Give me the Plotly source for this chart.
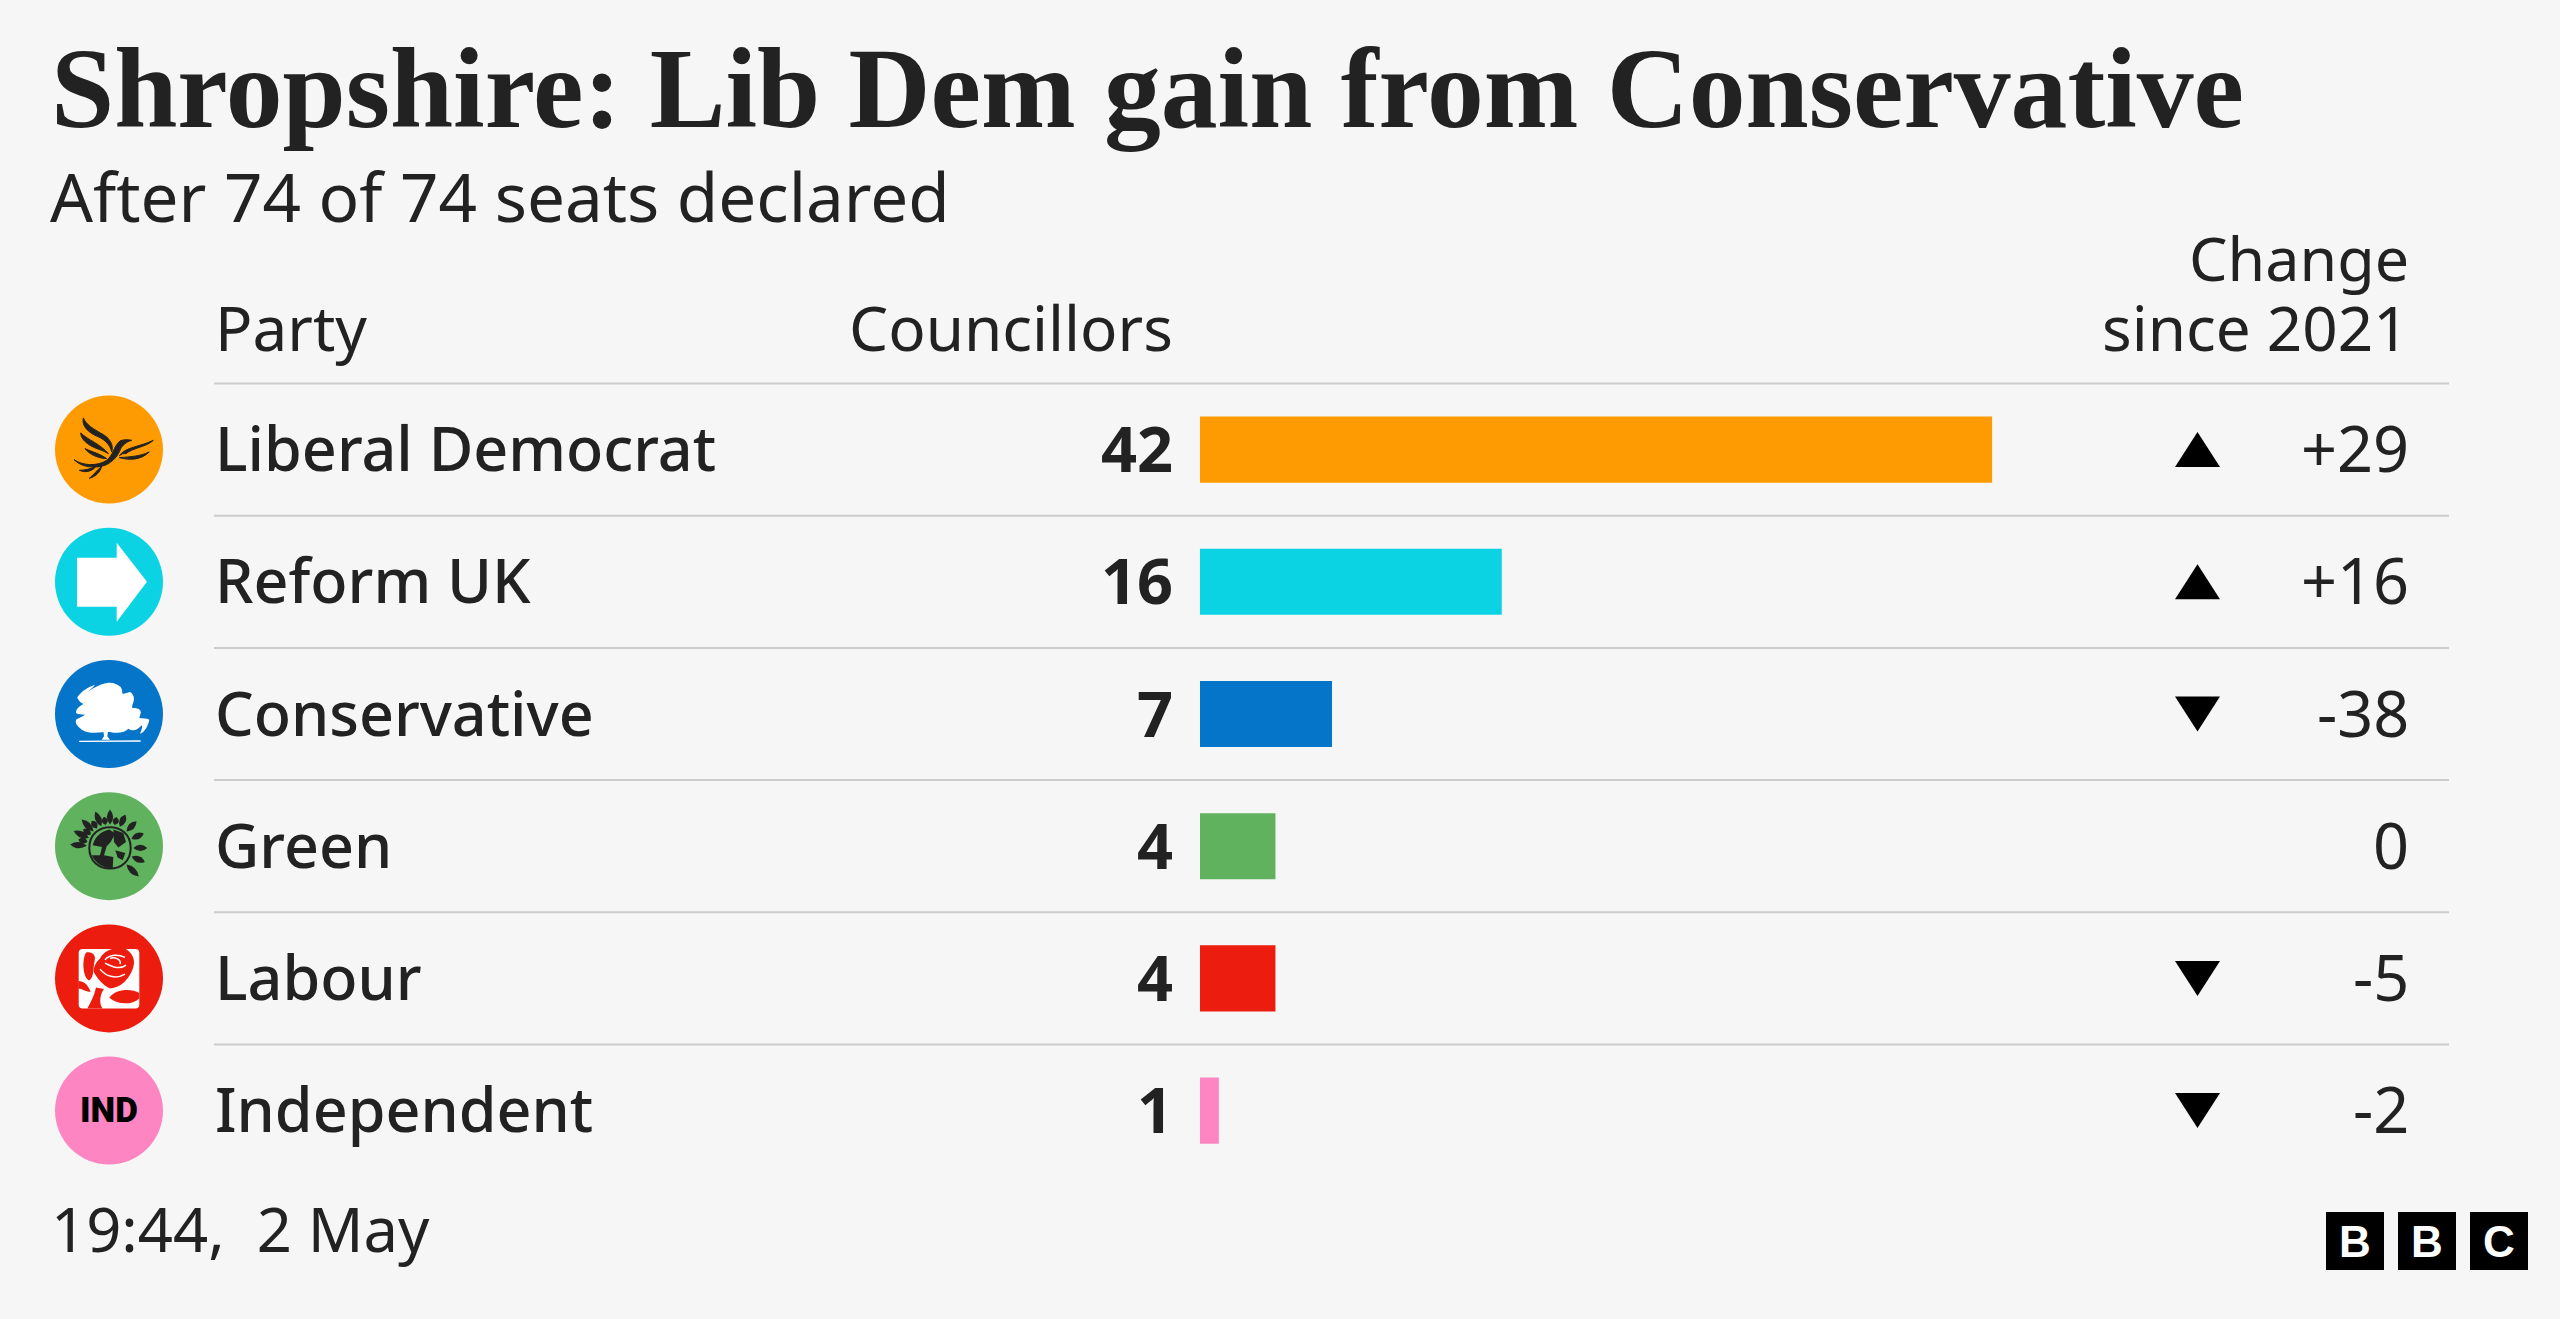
import math
import re
import plotly.graph_objects as go

WIDTH = 2560
HEIGHT = 1319

parties = ["Liberal Democrat", "Reform UK", "Conservative", "Green", "Labour", "Independent"]
councillors = [42, 16, 7, 4, 4, 1]
changes = [29, 16, -38, 0, -5, -2]
change_labels = ["+29", "+16", "-38", "0", "-5", "-2"]
colours = ["#ff9b02", "#0cd3e3", "#0575c9", "#60b25f", "#ec1d0e", "#fd86c2"]

title = "Shropshire: Lib Dem gain from Conservative"
subtitle = "After 74 of 74 seats declared"
timestamp = "19:44,\u00a0 2 May"

BG = "#f6f6f6"
INK = "#222222"
SANS = "Noto Sans"
ROW_TOP = 383.5
ROW_STEP = 132.2
BAR_LEFT = 1200
PX_PER_SEAT = 18.86

row_y = [ROW_TOP + ROW_STEP * (i + 0.5) for i in range(len(parties))]
ICON_X = 109


def emblem(d, row):
    # emblem paths are written in a 360 box around the disc, centre 177,178
    def conv(m):
        x = ICON_X + (float(m.group(1)) - 177) / 3
        y = row_y[row] + (float(m.group(2)) - 178) / 3
        return f"{x:.1f},{y:.1f}"
    return re.sub(r"(-?[\d.]+),(-?[\d.]+)", conv, d)


def petal(angle, r_out, r_in=70, w=19):
    a = math.radians(angle)
    ux, uy = math.cos(a), -math.sin(a)
    nx, ny = -uy, ux
    cx, cy = 180, 183
    bx, by = cx + ux * r_in, cy + uy * r_in
    tx, ty = cx + ux * r_out, cy + uy * r_out
    mid = (r_in + r_out) / 2
    mx, my = cx + ux * mid, cy + uy * mid
    return (f"M{bx:.1f},{by:.1f} Q{mx + nx * w:.1f},{my + ny * w:.1f} {tx:.1f},{ty:.1f} "
            f"Q{mx - nx * w:.1f},{my - ny * w:.1f} {bx:.1f},{by:.1f} Z")


DARK = "#222222"
WHITE = "#ffffff"
RED = colours[4]

bird = [
    "M72,208 C95,225 140,230 170,210 C190,195 190,170 210,152 C222,147 235,148 245,150 C228,155 218,165 212,175 C205,195 190,215 165,225 C135,235 95,232 72,208 Z",
    "M100,83 C110,110 150,125 170,140 C185,155 190,170 185,185 C180,160 160,145 135,135 C110,122 95,105 100,83 Z",
    "M92,128 C115,150 150,160 175,190 C160,180 135,175 120,165 C105,155 93,145 92,128 Z",
    "M105,175 C125,185 150,190 170,205 C150,205 120,195 105,175 Z",
    "M310,150 C290,170 250,172 228,190 C220,190 215,190 208,197 C225,170 270,170 310,150 Z",
    "M298,185 C275,208 240,212 208,202 C240,200 270,198 298,185 Z",
    "M138,228 C130,240 110,250 88,240 C105,240 125,235 138,228 Z",
    "M155,228 C150,245 140,258 118,264 C130,255 140,240 155,228 Z",
]
arrow = ["M81,106 L200,106 L200,61 L291,178 L200,298 L200,253 L81,253 Z"]
tree = [
    "M82,128 C95,108 115,97 135,90 C130,98 120,105 112,112 C130,100 150,88 172,85 C190,83 200,88 212,97 C218,105 215,112 218,118 L240,112 C250,118 255,130 250,143 C247,150 246,155 247,160 C262,158 275,165 272,175 L268,190 C278,192 290,190 298,195 C295,212 285,232 270,237 C275,225 278,215 275,212 C262,226 250,232 235,222 C225,233 205,238 180,232 C150,232 120,240 95,225 C85,215 75,210 78,195 C85,190 100,185 105,180 C95,178 85,180 78,175 C78,160 90,155 100,148 C95,145 85,140 82,128 Z",
    "M160,225 L175,225 L172,245 L180,255 L155,255 L162,245 Z",
    "M87,258 L272,257 L272,261 L87,262 Z",
]
globe_ring = "M118,183 C118,100 242,100 242,183 C242,266 118,266 118,183 Z"
globe = [
    "M128,175 C135,150 150,135 178,128 L196,140 L182,165 L170,178 L162,205 L190,210 L188,244 C165,246 135,230 125,205 L150,205 L156,180 Z",
    "M190,128 L220,138 L228,165 L205,182 L192,165 Z",
    "M196,190 L226,198 L218,220 L203,212 Z",
]
for ang, r in [(0, 112), (-22, 113), (-45, 122), (23, 110), (45, 113), (65, 110), (90, 115),
               (112, 118), (135, 120), (155, 120), (175, 120),
               (78, 95), (101, 95), (124, 98), (145, 98), (165, 98)]:
    globe.append(petal(ang, r))
rose_red = [
    "M150,118 C160,98 190,80 225,88 C250,102 258,125 248,150 C238,178 212,208 180,208 C158,198 142,178 132,160 C128,148 138,128 150,118 Z",
    "M108,100 C128,96 138,108 134,125 C128,145 134,172 118,184 C100,178 94,125 108,100 Z",
    "M178,236 C198,208 245,208 268,222 L268,238 C245,258 205,258 178,236 Z",
    "M138,205 C133,230 122,250 112,268 L158,268 C146,255 150,225 162,210 Z",
    "M85,186 C102,186 114,198 122,218 C106,218 95,208 85,208 Z",
]
rose_lines = [
    "M165,122 C180,105 205,105 225,115",
    "M165,132 C190,145 210,152 228,138",
    "M180,118 C195,112 215,122 210,135",
    "M150,150 C170,175 200,180 225,165",
]

fig = go.Figure()

fig.add_trace(go.Bar(
    x=councillors, y=parties, orientation="h",
    marker=dict(color=colours, line_width=0), width=0.5,
    xaxis="x", yaxis="y", showlegend=False,
))

fig.add_trace(go.Scatter(
    x=[ICON_X] * len(parties), y=row_y, mode="markers",
    marker=dict(size=108, color=colours, line_width=0),
    xaxis="x2", yaxis="y2", showlegend=False,
))

shapes = []


def add_path(d, fill, line=None, lw=0):
    shapes.append(dict(type="path", path=d, xref="x2", yref="y2", fillcolor=fill,
                       line=dict(color=line or fill, width=lw), layer="above"))


for i in range(len(parties)):
    y = ROW_TOP + ROW_STEP * i
    shapes.append(dict(type="line", x0=214, x1=2449, y0=y, y1=y, xref="x2", yref="y2",
                       line=dict(color="#cccccc", width=2), layer="below"))

for d in bird:
    add_path(emblem(d, 0), DARK, DARK, 1)
for d in arrow:
    add_path(emblem(d, 1), WHITE)
for d in tree:
    add_path(emblem(d, 2), WHITE)
add_path(emblem(globe_ring, 3), "rgba(0,0,0,0)", DARK, 2)
for d in globe:
    add_path(emblem(d, 3), DARK)
add_path(emblem("M98,90 L256,90 C264,90 268,94 268,102 L268,256 C268,264 264,268 256,268 L98,268 C90,268 86,264 86,256 L86,102 C86,94 90,90 98,90 Z", 4), WHITE)
for d in rose_red:
    add_path(emblem(d, 4), RED)
for d in rose_lines:
    add_path(emblem(d, 4), "rgba(0,0,0,0)", WHITE, 1.5)

# up / down markers come from the sign of the change
for i, c in enumerate(changes):
    if c == 0:
        continue
    cy = row_y[i]
    half = 17.5 if c > 0 else -17.5
    shapes.append(dict(type="path", xref="x2", yref="y2", fillcolor="#000000", line_width=0, layer="above",
                       path=f"M2175,{cy + half:.1f} L2220,{cy + half:.1f} L2197.5,{cy - half:.1f} Z"))

for x0 in [2326, 2398, 2470]:
    shapes.append(dict(type="rect", x0=x0, x1=x0 + 58, y0=1212, y1=1270, xref="x2", yref="y2",
                       fillcolor="#000000", line_width=0, layer="above"))

ann = []


def text(x, y, s, size, anchor="left", family=SANS, weight=400, color=INK):
    ann.append(dict(x=x, y=y, xref="x2", yref="y2", text=s, showarrow=False, xanchor=anchor, yanchor="middle",
                    font=dict(family=family, size=size, color=color, weight=weight)))


text(49, 89, title, 113.6, family="Liberation Serif", weight=700)
text(48, 196, subtitle, 67.4)
text(213, 327, "Party", 62)
text(1175, 327, "Councillors", 62, "right")
text(2411, 257, "Change", 61, "right")
text(2411, 327, "since 2021", 62, "right")
text(49, 1228, timestamp, 61.5)

for i, p in enumerate(parties):
    text(213, row_y[i] - 2, p, 61, weight=500)
    text(1175, row_y[i] - 2, str(councillors[i]), 63, "right", weight=700)
    text(2411, row_y[i] - 2, change_labels[i], 63, "right")

text(ICON_X, row_y[5], "IND", 35, "center", family="Roboto", weight=900, color="#000000")
for x0, ch in zip([2326, 2398, 2470], "BBC"):
    text(x0 + 29, 1241, ch, 44, "center", family="Liberation Sans", weight=700, color="#ffffff")

hidden = dict(visible=False, showgrid=False, zeroline=False, fixedrange=True)

fig.update_layout(
    width=WIDTH, height=HEIGHT,
    margin=dict(l=0, r=0, t=0, b=0),
    paper_bgcolor=BG, plot_bgcolor="rgba(0,0,0,0)",
    showlegend=False, shapes=shapes, annotations=ann,
    xaxis=dict(hidden, domain=[BAR_LEFT / WIDTH, 1], range=[0, (WIDTH - BAR_LEFT) / PX_PER_SEAT], anchor="y"),
    yaxis=dict(hidden, type="category", categoryorder="array", categoryarray=parties,
               domain=[1 - (ROW_TOP + ROW_STEP * 6) / HEIGHT, 1 - ROW_TOP / HEIGHT],
               range=[5.5, -0.5], anchor="x"),
    xaxis2=dict(hidden, domain=[0, 1], range=[0, WIDTH], anchor="y2"),
    yaxis2=dict(hidden, domain=[0, 1], range=[HEIGHT, 0], anchor="x2"),
)

fig.write_html("out.html", config=dict(displayModeBar=False),
               post_script="document.body.style.margin='0';document.body.style.overflow='hidden';")
